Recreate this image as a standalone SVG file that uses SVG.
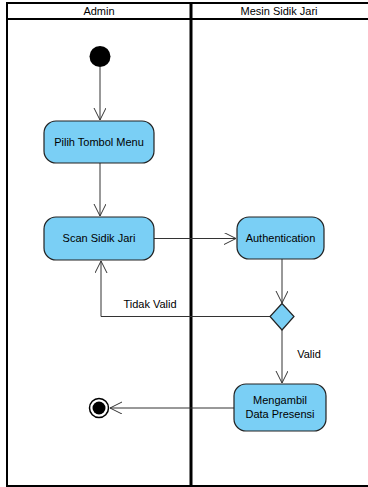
<svg xmlns="http://www.w3.org/2000/svg" width="368" height="487" viewBox="0 0 368 487">
<defs>
<style>
.lane{fill:none;stroke:#000;stroke-width:2}
.act{fill:#7ACFF5;stroke:#222;stroke-width:1.2}
.t{font-family:"Liberation Sans",Arial,sans-serif;font-size:11px;fill:#000;text-anchor:middle}
.c{fill:none;stroke:#333;stroke-width:1}
</style>
<marker id="open" markerWidth="14" markerHeight="14" refX="12" refY="6" orient="auto" markerUnits="userSpaceOnUse">
<path d="M0,0 L12,6 L0,12" fill="none" stroke="#333" stroke-width="1"/>
</marker>
</defs>
<rect width="368" height="487" fill="#fff"/>
<g id="swimlanes">
<polyline class="lane" points="370,3 7,3 7,486 370,486"/>
<line class="lane" x1="7" y1="19" x2="370" y2="19"/>
<line x1="191" y1="3" x2="191" y2="486" stroke="#000" stroke-width="3"/>
<text class="t" x="99" y="15">Admin</text>
<text class="t" x="279" y="15">Mesin Sidik Jari</text>
</g>
<g id="connectors">
<line class="c" x1="100" y1="67" x2="100" y2="120" marker-end="url(#open)"/>
<line class="c" x1="100" y1="163" x2="100" y2="216" marker-end="url(#open)"/>
<line class="c" x1="154" y1="238.5" x2="236" y2="238.5" marker-end="url(#open)"/>
<line class="c" x1="282" y1="259" x2="282" y2="303" marker-end="url(#open)"/>
<polyline class="c" points="270,316.5 101,316.5 101,261" marker-end="url(#open)"/>
<line class="c" x1="282" y1="330" x2="282" y2="383" marker-end="url(#open)"/>
<line class="c" x1="234" y1="408" x2="110" y2="408" marker-end="url(#open)"/>
<text class="t" x="150" y="308">Tidak Valid</text>
<text class="t" x="309" y="358">Valid</text>
</g>
<g id="start"><circle cx="100" cy="56.5" r="10.5" fill="#000"/></g>
<g id="pilih">
<rect class="act" x="44" y="121" width="110" height="42" rx="12"/>
<text class="t" x="99" y="146">Pilih Tombol Menu</text>
</g>
<g id="scan">
<rect class="act" x="44" y="217" width="110" height="43" rx="12"/>
<text class="t" x="99" y="242">Scan Sidik Jari</text>
</g>
<g id="auth">
<rect class="act" x="237" y="217" width="87" height="42" rx="12"/>
<text class="t" x="280.5" y="242">Authentication</text>
</g>
<g id="decision">
<polygon points="282,303.5 294,316.5 282,330 270,316.5" fill="#7ACFF5" stroke="#222" stroke-width="1.2"/>
</g>
<g id="mengambil">
<rect class="act" x="234" y="384" width="92" height="47" rx="12"/>
<text class="t" x="280" y="404">Mengambil</text>
<text class="t" x="280" y="418">Data Presensi</text>
</g>
<g id="end">
<circle cx="99" cy="408" r="9.5" fill="#fff" stroke="#000" stroke-width="1.5"/>
<circle cx="99" cy="408" r="6.5" fill="#000"/>
</g>
</svg>
